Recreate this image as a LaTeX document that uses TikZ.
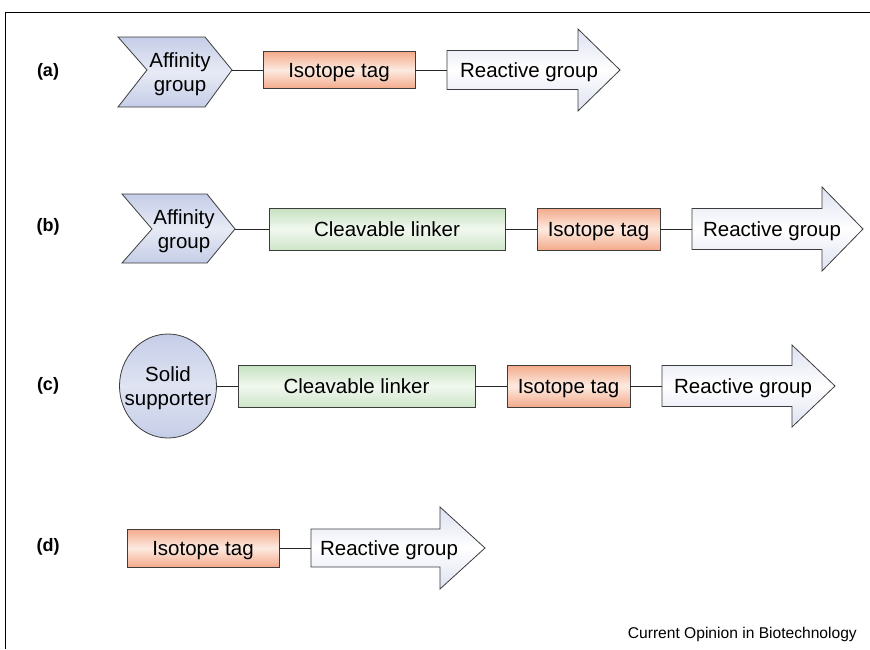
\documentclass[tikz,border=0pt]{standalone}
\usepackage{fontspec}
\setmainfont{Liberation Sans}
\usetikzlibrary{shapes.geometric}

\definecolor{chevblue}{RGB}{197,205,231}
\definecolor{tagred}{RGB}{243,170,138}
\definecolor{tagpale}{RGB}{253,234,225}
\definecolor{linkgreen}{RGB}{197,225,191}
\definecolor{linkpale}{RGB}{241,248,239}
\definecolor{arrowgrey}{RGB}{221,225,241}
\definecolor{edgegrey}{RGB}{60,60,60}

\tikzset{
  outline/.style={draw=edgegrey, line width=0.8pt},
  isotope/.style={outline, rectangle, inner sep=0pt, top color=tagred, bottom color=tagred, middle color=tagpale},
  cleavable/.style={outline, rectangle, inner sep=0pt, top color=linkgreen, bottom color=linkgreen!85, middle color=linkpale},
  affinity/.style={outline, top color=chevblue, bottom color=chevblue, middle color=chevblue!40},
  reactive/.style={outline, top color=arrowgrey, bottom color=arrowgrey, middle color=white},
  tie/.style={draw=black!85, line width=0.8pt},
  rowlabel/.style={font=\fontsize{18}{20}\selectfont\bfseries},
  txt/.style={font=\fontsize{20.5}{24}\selectfont, align=center, inner sep=0pt, text depth=0pt}
}

\begin{document}
\begin{tikzpicture}[x=1pt, y=-1pt, >=stealth]
\useasboundingbox (0,0) rectangle (870,649);

\draw [line width=0.9pt] (5,649) -- (5,12) -- (870,12);

% (a)
\node [rowlabel] (labA) at (48,72) {(a)};
\draw [affinity] (118,37) -- (205,37) -- (232,70) -- (205,107) -- (118,107) -- (147,70) -- cycle;
\coordinate (affA) at (232,70);
\node [txt] (affAtext) at (180,72) {Affinity\\group};
\node [isotope, txt, minimum width=152pt, minimum height=37pt] (tagA) at (339,70) {Isotope tag};
\draw [reactive] (447,50.5) -- (578,50.5) -- (578,29) -- (620,70) -- (578,111) -- (578,89.5) -- (447,89.5) -- cycle;
\coordinate (tailA) at (447,70);
\node [txt] (reactA) at (529,70) {Reactive group};
\draw [tie] (affA) -- (tagA.west);
\draw [tie] (tagA.east) -- (tailA);

% (b)
\node [rowlabel] (labB) at (48,227) {(b)};
\draw [affinity] (122,194) -- (207,194) -- (235,229) -- (207,263) -- (122,263) -- (152,229) -- cycle;
\coordinate (affB) at (235,229);
\node [txt] (affBtext) at (184,229) {Affinity\\group};
\node [cleavable, txt, minimum width=236pt, minimum height=42pt] (linkB) at (387,229) {Cleavable linker};
\node [isotope, txt, minimum width=123pt, minimum height=42pt] (tagB) at (598.5,229) {Isotope tag};
\draw [reactive] (692,208.5) -- (822,208.5) -- (822,187) -- (863,229) -- (822,271) -- (822,249.5) -- (692,249.5) -- cycle;
\coordinate (tailB) at (692,229);
\node [txt] (reactB) at (772,229) {Reactive group};
\draw [tie] (affB) -- (linkB.west);
\draw [tie] (linkB.east) -- (tagB.west);
\draw [tie] (tagB.east) -- (tailB);

% (c)
\node [rowlabel] (labC) at (48,386) {(c)};
\node [ellipse, outline, inner sep=0pt, top color=chevblue, bottom color=chevblue, middle color=chevblue!55,
       minimum width=97pt, minimum height=104pt] (solid) at (168,386) {};
\node [txt] (solidtext) at (168,386) {Solid\\supporter};
\node [cleavable, txt, minimum width=237pt, minimum height=42pt] (linkC) at (356.5,386) {Cleavable linker};
\node [isotope, txt, minimum width=123pt, minimum height=42pt] (tagC) at (568.5,386) {Isotope tag};
\draw [reactive] (662,365.5) -- (792,365.5) -- (792,345) -- (835,386) -- (792,427) -- (792,406.5) -- (662,406.5) -- cycle;
\coordinate (tailC) at (662,386);
\node [txt] (reactC) at (743,386) {Reactive group};
\draw [tie] (solid.east) -- (linkC.west);
\draw [tie] (linkC.east) -- (tagC.west);
\draw [tie] (tagC.east) -- (tailC);

% (d)
\node [rowlabel] (labD) at (48,547) {(d)};
\node [isotope, txt, minimum width=152pt, minimum height=38pt] (tagD) at (203,548) {Isotope tag};
\draw [reactive] (311,529) -- (440,529) -- (440,507) -- (485,548) -- (440,589) -- (440,567) -- (311,567) -- cycle;
\coordinate (tailD) at (311,548);
\node [txt] (reactD) at (389,548) {Reactive group};
\draw [tie] (tagD.east) -- (tailD);

\node [anchor=base east, font=\fontsize{15.6}{18}\selectfont, inner sep=0pt] (credit) at (857,638) {Current Opinion in Biotechnology};

\end{tikzpicture}
\end{document}
